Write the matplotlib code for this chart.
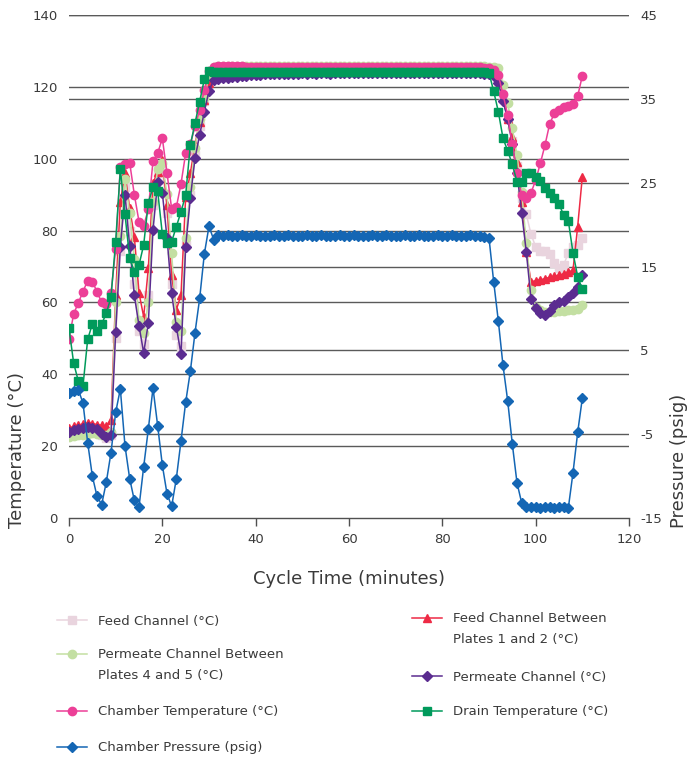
import matplotlib.pyplot as plt

plt.rcParams['font.family'] = 'DejaVu Sans'
plt.rcParams['axes.unicode_minus'] = False

# cycle time, one reading per minute
minutes = list(range(111))

feed_channel = [
    23.2, 23.4, 23.6, 23.9, 24.1, 24.3, 24.0, 23.0, 22.4, 23.0,
    50.1, 74.4, 92.0, 80.0, 65.0, 52.0, 48.5, 62.0, 87.0, 96.0,
    97.0, 85.0, 65.0, 51.0, 48.0, 76.0, 90.0, 101.0, 109.0, 116.0,
    122.0, 124.3,
    124.5, 124.4, 124.4, 124.3, 124.4, 124.3, 124.3, 124.4, 124.3, 124.3,
    124.4, 124.3, 124.3, 124.4, 124.3, 124.3, 124.3, 124.4, 124.3, 124.3,
    124.3, 124.4, 124.3, 124.3, 124.4, 124.3, 124.3, 124.4, 124.3, 124.3,
    124.4, 124.3, 124.3, 124.4, 124.3, 124.3, 124.4, 124.3, 124.3, 124.4,
    124.3, 124.4, 124.3, 124.3, 124.4, 124.3, 124.4, 124.3, 124.4, 124.3,
    124.4, 124.3, 124.4, 124.3, 124.4, 124.4, 124.5, 124.5,
    124.5, 124.0, 122.0, 117.0, 111.0, 105.0, 98.0, 89.0, 84.5, 79.0,
    75.5, 74.3, 74.3, 73.5, 71.0, 69.5, 70.5, 73.7, 75.5, 76.0, 77.8]

feed_between_1_2 = [
    25.0, 25.5, 25.8, 26.2, 26.5, 26.3, 26.0, 25.8, 25.5, 27.3,
    62.0, 88.0, 96.0, 86.2, 78.3, 62.7, 56.0, 69.5, 93.2, 96.4,
    99.6, 87.0, 67.6, 58.0, 62.0, 89.4, 95.9, 104.0, 110.3, 116.3,
    121.0, 123.8,
    124.6, 124.7, 124.6, 124.6, 124.7, 124.6, 124.6, 124.6, 124.7, 124.6,
    124.6, 124.6, 124.7, 124.6, 124.6, 124.6, 124.6, 124.7, 124.6, 124.6,
    124.6, 124.6, 124.7, 124.6, 124.6, 124.6, 124.7, 124.6, 124.6, 124.6,
    124.7, 124.6, 124.6, 124.6, 124.7, 124.6, 124.6, 124.7, 124.6, 124.6,
    124.6, 124.7, 124.6, 124.6, 124.7, 124.6, 124.6, 124.7, 124.6, 124.6,
    124.7, 124.6, 124.6, 124.7, 124.6, 124.6, 124.7, 124.6,
    124.5, 124.0, 122.0, 117.0, 111.0, 106.0, 99.0, 88.0, 74.0, 65.8,
    66.0, 66.3, 66.6, 67.0, 67.3, 67.6, 68.0, 68.4, 69.0, 81.1, 95.0]

permeate_between_4_5 = [
    22.5, 22.8, 23.0, 23.2, 23.5, 23.6, 23.5, 23.2, 23.0, 24.0,
    60.0, 78.5, 94.3, 85.0, 72.0, 55.1, 51.4, 60.0, 88.0, 97.0,
    98.7, 90.2, 73.7, 54.6, 52.0, 78.0, 92.0, 103.0, 111.0, 117.0,
    123.0, 125.5,
    125.8, 125.8, 125.9, 125.8, 125.8, 125.8, 125.9, 125.8, 125.8, 125.8,
    125.9, 125.8, 125.8, 125.8, 125.9, 125.8, 125.8, 125.9, 125.8, 125.8,
    125.8, 125.9, 125.8, 125.8, 125.9, 125.8, 125.8, 125.8, 125.9, 125.8,
    125.8, 125.9, 125.8, 125.8, 125.9, 125.8, 125.8, 125.9, 125.8, 125.8,
    125.9, 125.8, 125.8, 125.9, 125.8, 125.8, 125.9, 125.8, 125.9, 125.8,
    125.8, 125.9, 125.8, 125.9, 125.8, 125.9, 125.8, 125.7,
    125.5, 125.5, 125.2, 120.5, 115.4, 108.5, 101.0, 90.8, 76.6, 63.5,
    58.6, 57.8, 57.4, 57.3, 57.4, 57.5, 57.6, 57.8, 58.0, 58.3, 59.3]

permeate_channel = [
    24.0, 24.5, 24.8, 25.0, 25.2, 25.0, 24.8, 23.5, 22.6, 23.0,
    51.7, 75.5, 89.9, 75.7, 62.0, 53.5, 46.0, 54.2, 80.2, 93.6,
    90.5, 78.0, 62.5, 53.2, 45.6, 75.5, 89.0, 100.1, 106.6, 113.1,
    118.9, 121.9,
    122.2, 122.4, 122.5, 122.7, 122.8, 123.0, 123.1, 123.2, 123.3, 123.4,
    123.5, 123.5, 123.6, 123.6, 123.7, 123.6, 123.7, 123.7, 123.8, 123.7,
    123.8, 123.7, 123.8, 123.8, 123.7, 123.8, 123.8, 123.9, 123.8, 123.8,
    123.9, 123.8, 123.8, 123.9, 123.8, 123.9, 123.8, 123.9, 123.8, 123.9,
    123.8, 123.9, 123.9, 123.8, 123.9, 123.9, 123.8, 123.9, 123.9, 123.8,
    123.9, 123.9, 123.8, 123.9, 123.8, 123.9, 123.8, 123.7,
    123.5, 123.0, 121.0, 116.0, 111.0, 104.0, 96.0, 85.0, 74.0, 61.0,
    58.4, 57.0, 56.5, 57.5, 59.3, 60.0, 60.5, 61.6, 62.5, 64.4, 67.6]

chamber_temp = [
    49.8, 56.8, 59.9, 63.0, 66.1, 65.8, 63.0, 60.0, 59.5, 62.5,
    75.0, 97.8, 98.4, 98.9, 90.0, 82.5, 81.3, 86.0, 99.3, 101.5,
    105.7, 96.0, 86.0, 86.5, 93.0, 101.5, 104.0, 109.0, 113.6, 119.0,
    124.5, 125.6,
    125.9, 125.9, 125.8, 125.8, 125.7, 125.7, 125.6, 125.6, 125.6, 125.5,
    125.6, 125.5, 125.5, 125.6, 125.5, 125.5, 125.5, 125.6, 125.5, 125.5,
    125.5, 125.4, 125.5, 125.5, 125.4, 125.5, 125.5, 125.4, 125.5, 125.4,
    125.5, 125.4, 125.4, 125.5, 125.4, 125.4, 125.5, 125.4, 125.4, 125.4,
    125.5, 125.4, 125.4, 125.4, 125.5, 125.4, 125.4, 125.4, 125.5, 125.4,
    125.4, 125.5, 125.4, 125.4, 125.5, 125.4, 125.4, 125.3,
    125.2, 124.8, 123.3, 117.9, 112.2, 104.0, 96.0, 89.9, 89.0, 90.5,
    94.0, 98.7, 103.8, 109.7, 112.6, 113.6, 114.3, 114.7, 115.2, 117.4, 123.1]

drain_temp = [
    52.8, 43.1, 38.1, 36.8, 49.7, 54.0, 52.1, 54.0, 57.0, 61.5,
    76.9, 97.0, 84.5, 72.3, 68.6, 70.4, 76.0, 87.8, 92.0, 91.0,
    79.0, 76.5, 76.9, 81.1, 85.2, 89.9, 103.8, 109.9, 115.9, 122.1,
    124.5, 124.2,
    124.1, 124.2, 124.1, 124.1, 124.2, 124.1, 124.1, 124.1, 124.2, 124.1,
    124.1, 124.1, 124.2, 124.1, 124.1, 124.2, 124.1, 124.1, 124.1, 124.2,
    124.1, 124.1, 124.2, 124.1, 124.1, 124.1, 124.2, 124.1, 124.1, 124.2,
    124.1, 124.1, 124.1, 124.2, 124.1, 124.1, 124.2, 124.1, 124.1, 124.1,
    124.2, 124.1, 124.1, 124.2, 124.1, 124.1, 124.1, 124.2, 124.1, 124.1,
    124.2, 124.1, 124.1, 124.1, 124.2, 124.1, 124.1, 124.0,
    123.9, 118.8, 113.1, 105.7, 102.2, 98.4, 93.6, 93.6, 96.1, 96.1,
    95.0, 93.9, 91.8, 90.4, 89.0, 87.4, 84.3, 82.7, 73.8, 67.2, 63.6]

chamber_pressure = [
    -0.1, 0.1, 0.3, -1.3, -6.0, -10.0, -12.4, -13.4, -10.7, -7.2,
    -2.4, 0.4, -6.4, -10.3, -12.9, -13.7, -8.9, -4.4, 0.5, -4.0,
    -8.7, -12.1, -13.6, -10.3, -5.8, -1.2, 2.5, 7.1, 11.2, 16.5,
    19.8, 18.2,
    18.7, 18.6, 18.7, 18.6, 18.6, 18.7, 18.6, 18.6, 18.7, 18.6,
    18.6, 18.6, 18.7, 18.6, 18.6, 18.7, 18.6, 18.6, 18.6, 18.7,
    18.6, 18.6, 18.7, 18.6, 18.6, 18.6, 18.7, 18.6, 18.6, 18.7,
    18.6, 18.6, 18.6, 18.7, 18.6, 18.6, 18.7, 18.6, 18.6, 18.6,
    18.7, 18.6, 18.6, 18.7, 18.6, 18.6, 18.6, 18.7, 18.6, 18.6,
    18.7, 18.6, 18.6, 18.6, 18.7, 18.6, 18.6, 18.5,
    18.4, 13.2, 8.5, 3.2, -1.0, -6.2, -10.8, -13.2, -13.7, -13.7,
    -13.7, -13.8, -13.7, -13.7, -13.8, -13.7, -13.7, -13.8, -9.6, -4.8, -0.7]

# legend labels: (first line, second line)
labels = [('Feed Channel (°C)', None),
          ('Feed Channel Between', 'Plates 1 and 2 (°C)'),
          ('Permeate Channel Between', 'Plates 4 and 5 (°C)'),
          ('Permeate Channel (°C)', None),
          ('Chamber Temperature (°C)', None),
          ('Drain Temperature (°C)', None),
          ('Chamber Pressure (psig)', None)]

temp_series = [feed_channel, feed_between_1_2, permeate_between_4_5,
               permeate_channel, chamber_temp, drain_temp]
colors = ['#E9D4DE', '#EE2A45', '#C3DFA2', '#5B2C90', '#EC3F97', '#009A5B', '#1466B4']
markers = ['s', '^', 'o', 'D', 'o', 's', 'D']
msizes = [6, 6, 6, 5, 6, 6, 5.2]

txt = '#3a3a3a'
grid_c = '#5a5a5a'

fig = plt.figure(figsize=(6.93, 7.62), dpi=100)
ax = fig.add_axes([69 / 693, 1 - 518 / 762, 560 / 693, 503 / 762])
ax2 = ax.twinx()

t_lim = (0, 140)
p_lim = (-15, 45)
ax.set_xlim(0, 120)
ax.set_ylim(*t_lim)
ax2.set_ylim(*p_lim)

ax.set_yticks(range(0, 141, 20))
ax2.set_yticks(range(-15, 46, 10))
ax.set_xticks(range(0, 121, 20))

# gridlines for both axes, drawn behind the series
for v in range(20, 141, 20):
    ax.axhline(v, color=grid_c, lw=1.0, zorder=0)
for p in range(-5, 46, 10):
    ax.axhline(t_lim[0] + (p - p_lim[0]) * (t_lim[1] - t_lim[0]) / (p_lim[1] - p_lim[0]),
               color=grid_c, lw=1.0, zorder=0)

handles = []
for i, vals in enumerate(temp_series):
    h, = ax.plot(minutes, vals, color=colors[i], lw=1.1, marker=markers[i],
                 ms=msizes[i], mfc=colors[i], mec=colors[i], zorder=2 + i)
    handles.append(h)
h, = ax2.plot(minutes, chamber_pressure, color=colors[6], lw=1.1, marker='D',
              ms=msizes[6], mfc=colors[6], mec=colors[6])
handles.append(h)

for a in (ax, ax2):
    for s in ('left', 'right', 'top'):
        a.spines[s].set_visible(False)
ax2.spines['bottom'].set_visible(False)
ax.spines['bottom'].set_color('#505050')
ax.spines['bottom'].set_linewidth(1.0)

ax.tick_params(axis='y', length=0, pad=8, labelsize=9.5, labelcolor=txt)
ax2.tick_params(axis='y', length=0, pad=8, labelsize=9.5, labelcolor=txt)
ax.tick_params(axis='x', length=6, width=1, color='#505050', pad=5,
               labelsize=9.5, labelcolor=txt, direction='out')

ax.set_xlabel('Cycle Time (minutes)', fontsize=13, color=txt, labelpad=17)
ax.set_ylabel('Temperature (°C)', fontsize=13, color=txt, labelpad=5, loc='bottom')
ax2.set_ylabel('Pressure (psig)', fontsize=13, color=txt, labelpad=6, loc='bottom')
ax.yaxis.label.set_y(-0.02)
ax2.yaxis.label.set_y(-0.02)

# legend laid out like the original: two columns under the plot
legend_pos = [(57, 621), (412, 619), (57, 655), (412, 677), (57, 712), (412, 712), (57, 748)]
legs = []
for h, (lab, _), (px, py) in zip(handles, labels, legend_pos):
    leg = fig.legend([h], [lab], loc='center left', bbox_to_anchor=(px / 693, 1 - py / 762),
                     frameon=False, borderpad=0, borderaxespad=0, handlelength=2.3,
                     handletextpad=0.8, fontsize=9.5, labelcolor=txt)
    legs.append(leg)

# second line of the two-line legend labels, aligned under the first
fig.canvas.draw()
for leg, (_, second), (px, py) in zip(legs, labels, legend_pos):
    if second:
        bb = leg.get_texts()[0].get_window_extent()
        fig.text(bb.x0 / fig.bbox.width, 1 - (py + 21) / 762, second,
                 va='center', ha='left', fontsize=9.5, color=txt)

fig.savefig('out.png', dpi=100)
